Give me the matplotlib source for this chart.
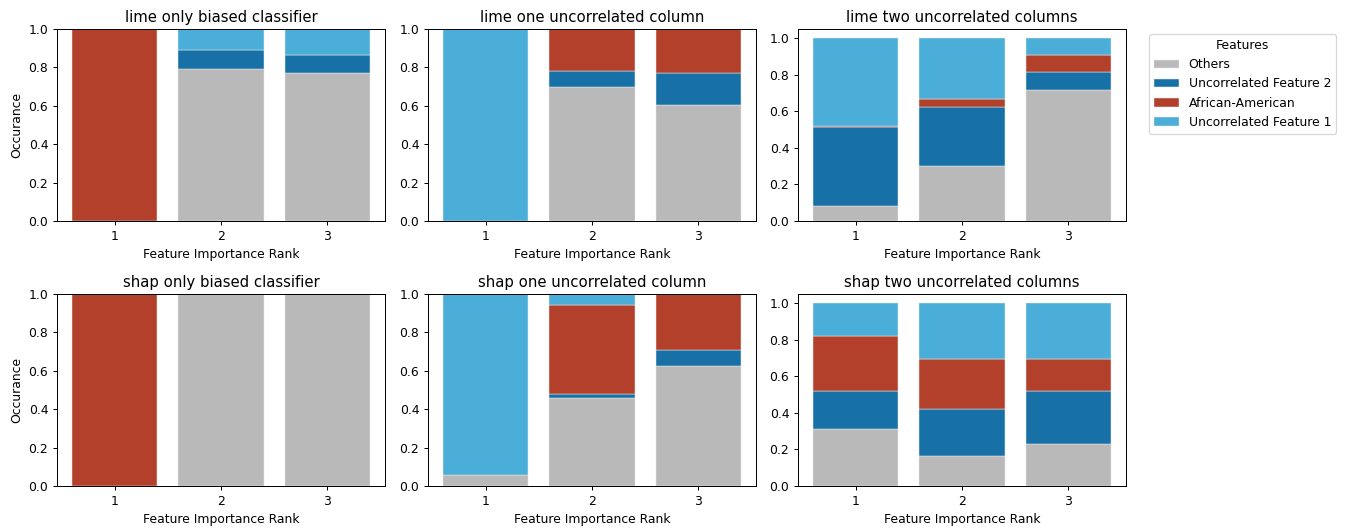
import numpy as np
import matplotlib
matplotlib.use("Agg")
import matplotlib.pyplot as plt

# feature names in stacking order (bottom -> top)
features = ["Others", "Uncorrelated Feature 2", "African-American", "Uncorrelated Feature 1"]
colors = ["#b9b9b9", "#1770a6", "#b3402a", "#4aaed8"]
ranks = [1, 2, 3]

titles = [
    "lime only biased classifier", "lime one uncorrelated column", "lime two uncorrelated columns",
    "shap only biased classifier", "shap one uncorrelated column", "shap two uncorrelated columns",
]

# occurrence per rank: rows = Others, UF2, African-American, UF1
lime_only = [[0.00, 0.79, 0.77],
             [0.00, 0.10, 0.095],
             [1.00, 0.00, 0.00],
             [0.00, 0.11, 0.135]]
lime_one = [[0.00, 0.70, 0.605],
            [0.00, 0.08, 0.165],
            [0.00, 0.22, 0.23],
            [1.00, 0.00, 0.00]]
lime_two = [[0.082, 0.30, 0.714],
            [0.433, 0.323, 0.101],
            [0.005, 0.042, 0.092],
            [0.48, 0.335, 0.093]]
shap_only = [[0.00, 1.00, 1.00],
             [0.00, 0.00, 0.00],
             [1.00, 0.00, 0.00],
             [0.00, 0.00, 0.00]]
shap_one = [[0.059, 0.457, 0.623],
            [0.00, 0.023, 0.085],
            [0.00, 0.464, 0.292],
            [0.941, 0.056, 0.00]]
shap_two = [[0.31, 0.164, 0.228],
            [0.211, 0.255, 0.293],
            [0.297, 0.273, 0.171],
            [0.182, 0.308, 0.308]]

panels = [lime_only, lime_one, lime_two, shap_only, shap_one, shap_two]

W, H = 1345, 529
DPI = 89
fig = plt.figure(figsize=(W / DPI, H / DPI), dpi=DPI)

lefts = [57, 428, 798]
tops = [29, 294]
aw, ah = 328, 192

axes = []
for i, data in enumerate(panels):
    r, c = divmod(i, 3)
    ax = fig.add_axes([lefts[c] / W, 1 - (tops[r] + ah) / H, aw / W, ah / H])
    data = np.array(data)
    bottom = np.zeros(len(ranks))
    for k, name in enumerate(features):
        # no edge on empty segments, otherwise a white hairline shows up
        lw = np.where(data[k] > 0, 0.4, 0.0)
        ax.bar(ranks, data[k], bottom=bottom, color=colors[k], label=name,
               edgecolor="#e8e8e8", linewidth=lw)
        bottom += data[k]
    ax.set_xticks(ranks)
    ax.set_title(titles[i], fontsize=12)
    ax.set_xlabel("Feature Importance Rank")
    if c == 0:
        ax.set_ylabel("Occurance")
    if c < 2:
        ax.set_ylim(0, 1)
    axes.append(ax)

handles, labels = axes[2].get_legend_handles_labels()
fig.legend(handles, labels, title="Features", loc="upper left",
           bbox_to_anchor=(1143 / W, 1 - 28 / H), fontsize=10, title_fontsize=10)

fig.savefig("out.png", dpi=DPI)
